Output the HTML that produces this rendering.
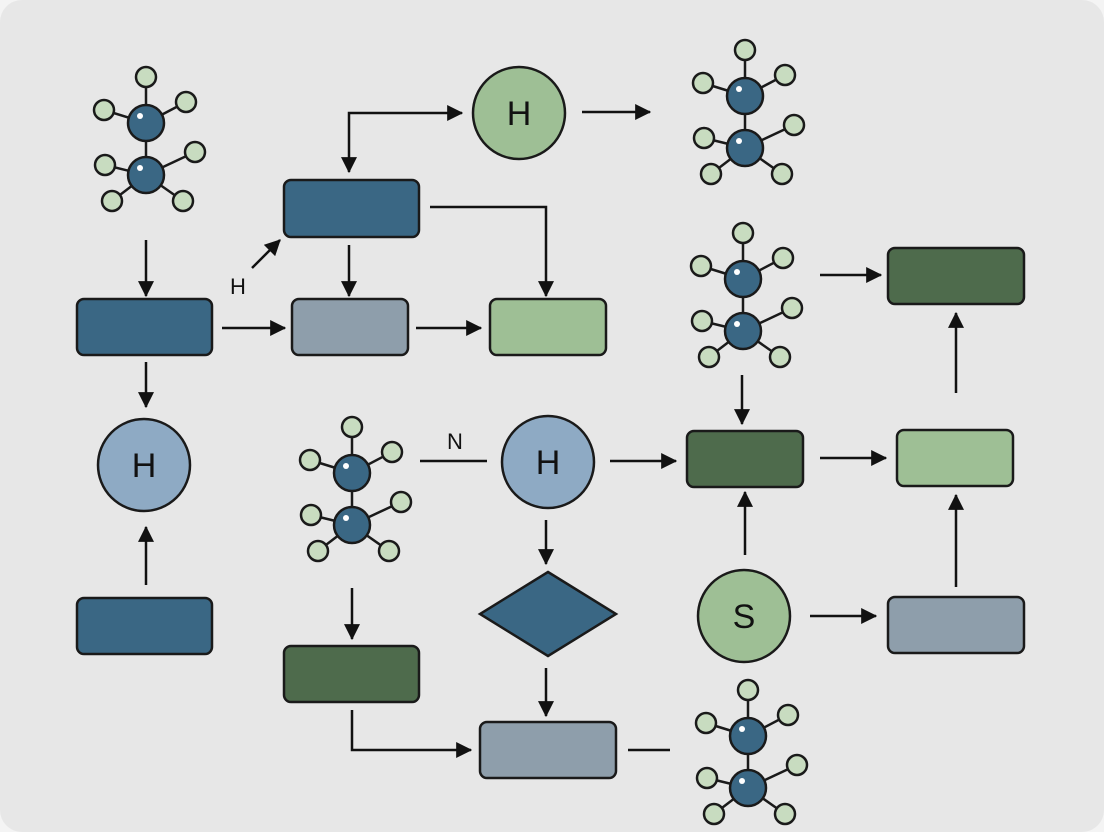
<!DOCTYPE html>
<html><head><style>
html,body{margin:0;padding:0;background:#f4f4f4;}
svg{display:block}
</style></head><body>
<svg width="1104" height="832" viewBox="0 0 1104 832" xmlns="http://www.w3.org/2000/svg" font-family="Liberation Sans, sans-serif">
<defs>
<marker id="a" markerWidth="16" markerHeight="16" refX="13" refY="7" orient="auto" markerUnits="userSpaceOnUse" viewBox="0 0 14 14">
<path d="M0,0 L14,7 L0,14 z" fill="#111"/></marker>
<g id="mol" stroke="#1a1a1a" stroke-width="2.5">
<line x1="0" y1="0" x2="0" y2="-46"/><line x1="0" y1="0" x2="-42" y2="-13"/><line x1="0" y1="0" x2="40" y2="-21"/>
<line x1="0" y1="0" x2="0" y2="52"/>
<line x1="0" y1="52" x2="-41" y2="42"/><line x1="0" y1="52" x2="49" y2="29"/><line x1="0" y1="52" x2="-34" y2="78"/><line x1="0" y1="52" x2="37" y2="78"/>
<g fill="#c8dcc0"><circle cx="0" cy="-46" r="10"/><circle cx="-42" cy="-13" r="10"/><circle cx="40" cy="-21" r="10"/><circle cx="-41" cy="42" r="10"/><circle cx="49" cy="29" r="10"/><circle cx="-34" cy="78" r="10"/><circle cx="37" cy="78" r="10"/></g>
<g fill="#3a6784"><circle cx="0" cy="0" r="18"/><circle cx="0" cy="52" r="18"/></g>
<circle cx="-6" cy="-7" r="3" fill="#fff" stroke="none"/><circle cx="-6" cy="45" r="3" fill="#fff" stroke="none"/>
</g>
</defs>
<rect x="0" y="0" width="1104" height="832" rx="22" fill="#e7e7e7"/>
<use href="#mol" x="146" y="123"/>
<use href="#mol" x="745" y="96"/>
<use href="#mol" x="743" y="279"/>
<use href="#mol" x="352" y="473"/>
<use href="#mol" x="748" y="736"/>
<g stroke="#1a1a1a" stroke-width="2.5">
<rect x="77" y="299" width="135" height="56" rx="7" fill="#3a6784"/>
<rect x="284" y="180" width="135" height="57" rx="7" fill="#3a6784"/>
<rect x="292" y="299" width="116" height="56" rx="7" fill="#8e9eab"/>
<rect x="490" y="299" width="116" height="56" rx="7" fill="#9ebf95"/>
<rect x="888" y="248" width="136" height="56" rx="7" fill="#4e6b4c"/>
<rect x="687" y="431" width="116" height="56" rx="7" fill="#4e6b4c"/>
<rect x="897" y="430" width="116" height="56" rx="7" fill="#9ebf95"/>
<rect x="77" y="598" width="135" height="56" rx="7" fill="#3a6784"/>
<rect x="284" y="646" width="135" height="56" rx="7" fill="#4e6b4c"/>
<rect x="480" y="722" width="136" height="56" rx="7" fill="#8e9eab"/>
<rect x="888" y="597" width="136" height="56" rx="7" fill="#8e9eab"/>
<polygon points="548,572 616,614 548,656 480,614" fill="#3a6784"/>
<circle cx="519" cy="113" r="46" fill="#9ebf95"/>
<circle cx="144" cy="465" r="46" fill="#8eaac4"/>
<circle cx="548" cy="462" r="46" fill="#8eaac4"/>
<circle cx="744" cy="616" r="46" fill="#9ebf95"/>
</g>
<g font-size="34" text-anchor="middle" fill="#111">
<text x="519" y="125">H</text><text x="144" y="477">H</text><text x="548" y="474">H</text><text x="744" y="628">S</text>
</g>
<text x="238" y="294" font-size="22" text-anchor="middle" fill="#111">H</text>
<text x="455" y="449" font-size="22" text-anchor="middle" fill="#111">N</text>
<g stroke="#111" stroke-width="2.5" fill="none">
<polyline points="420,113 349,113 349,172" marker-end="url(#a)"/>
<line x1="420" y1="113" x2="462" y2="113" marker-end="url(#a)"/>
<line x1="582" y1="112" x2="650" y2="112" marker-end="url(#a)"/>
<line x1="146" y1="240" x2="146" y2="296" marker-end="url(#a)"/>
<line x1="146" y1="362" x2="146" y2="407" marker-end="url(#a)"/>
<line x1="146" y1="585" x2="146" y2="527" marker-end="url(#a)"/>
<line x1="222" y1="328" x2="285" y2="328" marker-end="url(#a)"/>
<line x1="349" y1="245" x2="349" y2="296" marker-end="url(#a)"/>
<line x1="416" y1="328" x2="481" y2="328" marker-end="url(#a)"/>
<polyline points="430,207 546,207 546,296" marker-end="url(#a)"/>
<line x1="252" y1="268" x2="280" y2="240" marker-end="url(#a)"/>
<line x1="820" y1="275" x2="881" y2="275" marker-end="url(#a)"/>
<line x1="742" y1="375" x2="742" y2="424" marker-end="url(#a)"/>
<line x1="956" y1="393" x2="956" y2="313" marker-end="url(#a)"/>
<line x1="420" y1="461" x2="487" y2="461"/>
<line x1="610" y1="461" x2="676" y2="461" marker-end="url(#a)"/>
<line x1="820" y1="458" x2="886" y2="458" marker-end="url(#a)"/>
<line x1="745" y1="555" x2="745" y2="492" marker-end="url(#a)"/>
<line x1="956" y1="587" x2="956" y2="495" marker-end="url(#a)"/>
<line x1="810" y1="616" x2="876" y2="616" marker-end="url(#a)"/>
<line x1="546" y1="520" x2="546" y2="564" marker-end="url(#a)"/>
<line x1="546" y1="668" x2="546" y2="716" marker-end="url(#a)"/>
<line x1="352" y1="588" x2="352" y2="639" marker-end="url(#a)"/>
<polyline points="352,710 352,750 471,750" marker-end="url(#a)"/>
<line x1="628" y1="750" x2="670" y2="750"/>
</g>
</svg>
</body></html>
